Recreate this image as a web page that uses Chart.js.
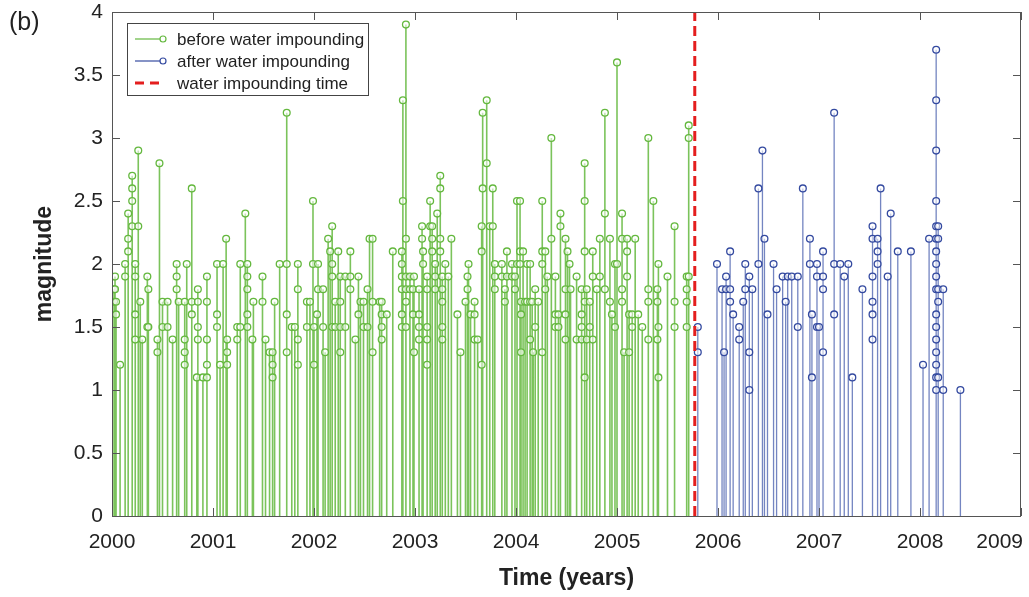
<!DOCTYPE html>
<html>
<head>
<meta charset="utf-8">
<title>Magnitude over time</title>
<script src="https://cdn.jsdelivr.net/npm/chart.js@4.4.1/dist/chart.umd.min.js"></script>
<style>
    html, body { margin: 0; padding: 0; background: #fff; }
    #wrap { width: 1029px; height: 597px; }
</style>
</head>
<body>
<div id="wrap"><canvas id="quakeChart" width="1029" height="597"></canvas></div>
<script>
// Each row: [time in decimal years, magnitude, magnitude, ...]
// (several events that fall on nearly the same date share a row)
const beforeEvents = [
    [2000.02, 1.8, 1.7], [2000.03, 1.9, 1.8], [2000.04, 1.7, 1.6], [2000.08, 1.2],
    [2000.13, 2.0, 1.9], [2000.16, 2.4, 2.2, 2.1], [2000.20, 2.7, 2.6, 2.5, 2.3],
    [2000.23, 2.0, 1.9, 1.6, 1.4], [2000.26, 2.9, 2.3], [2000.28, 1.7], [2000.30, 1.4],
    [2000.35, 1.9, 1.5], [2000.36, 1.8, 1.5], [2000.45, 1.4, 1.3], [2000.47, 2.8],
    [2000.50, 1.7, 1.5], [2000.55, 1.7, 1.5], [2000.60, 1.4], [2000.64, 2.0, 1.9, 1.8],
    [2000.66, 1.7], [2000.72, 1.7, 1.4, 1.3, 1.2], [2000.74, 2.0], [2000.79, 2.6, 1.7, 1.6],
    [2000.84, 1.1], [2000.85, 1.8, 1.7, 1.5, 1.4], [2000.90, 1.1], [2000.94, 1.9, 1.7, 1.4, 1.2, 1.1],
    [2001.04, 2.0, 1.6, 1.5], [2001.07, 1.2], [2001.10, 2.0], [2001.13, 2.2], [2001.14, 1.4, 1.3, 1.2],
    [2001.24, 1.5, 1.4], [2001.27, 2.0, 1.5], [2001.32, 2.4], [2001.34, 2.0, 1.9, 1.8, 1.6, 1.5],
    [2001.39, 1.4], [2001.40, 1.7], [2001.49, 1.9, 1.7], [2001.52, 1.4], [2001.56, 1.3],
    [2001.59, 1.3, 1.2, 1.1], [2001.61, 1.7], [2001.66, 2.0], [2001.73, 3.2, 2.0, 1.6, 1.3],
    [2001.78, 1.5], [2001.81, 1.5], [2001.84, 2.0, 1.8, 1.4, 1.2], [2001.93, 1.7, 1.5],
    [2001.96, 1.7], [2001.99, 2.5, 2.0], [2002.00, 1.5, 1.2], [2002.03, 1.6], [2002.04, 2.0, 1.8],
    [2002.09, 1.8, 1.5], [2002.11, 1.3], [2002.14, 2.2], [2002.16, 2.1], [2002.18, 2.3, 2.0, 1.9, 1.5],
    [2002.21, 1.7, 1.5], [2002.24, 2.1], [2002.26, 1.9, 1.7, 1.5, 1.3], [2002.31, 1.9, 1.5],
    [2002.36, 2.1, 1.9, 1.8], [2002.41, 1.4], [2002.44, 1.9, 1.6], [2002.46, 1.7], [2002.49, 1.7, 1.5],
    [2002.53, 1.8, 1.5], [2002.55, 2.2], [2002.58, 2.2, 1.7, 1.3], [2002.65, 1.7],
    [2002.67, 1.7, 1.6, 1.5, 1.4], [2002.72, 1.6], [2002.78, 2.1], [2002.87, 2.1, 2.0, 1.9, 1.8, 1.6, 1.5],
    [2002.88, 3.3, 2.5], [2002.91, 3.9, 2.2, 1.9, 1.8, 1.7, 1.5], [2002.95, 1.9, 1.8], [2002.98, 1.8, 1.6],
    [2002.99, 1.9, 1.3], [2003.04, 1.8, 1.6, 1.5, 1.4], [2003.07, 2.3, 2.2], [2003.08, 2.1, 2.0],
    [2003.12, 1.9, 1.8, 1.5, 1.4, 1.2], [2003.15, 2.5, 2.3], [2003.17, 2.3, 2.2, 2.1],
    [2003.20, 2.0, 1.9, 1.8], [2003.22, 2.4], [2003.25, 2.7, 2.6, 2.2, 2.1], [2003.27, 1.9, 1.8, 1.7, 1.5, 1.4],
    [2003.30, 2.0], [2003.33, 1.9], [2003.36, 2.2], [2003.42, 1.6], [2003.45, 1.3], [2003.50, 1.7],
    [2003.52, 1.9, 1.8], [2003.53, 2.0], [2003.55, 1.6], [2003.59, 1.7, 1.6, 1.4], [2003.62, 1.4],
    [2003.66, 2.3, 2.1, 1.2], [2003.67, 3.2, 2.6], [2003.71, 3.3, 2.8], [2003.74, 2.3], [2003.77, 2.6, 2.3],
    [2003.79, 2.0, 1.9, 1.8], [2003.86, 2.0, 1.9], [2003.89, 1.8, 1.7], [2003.91, 2.1, 1.9],
    [2003.96, 2.0, 1.9], [2003.99, 1.9, 1.8], [2004.01, 2.5, 2.0], [2004.04, 2.5, 2.1, 2.0],
    [2004.05, 1.7, 1.6, 1.3], [2004.07, 2.1], [2004.09, 1.7], [2004.11, 2.0, 1.7], [2004.14, 2.0, 1.7, 1.4],
    [2004.16, 1.7], [2004.17, 1.3], [2004.19, 1.8, 1.5], [2004.22, 1.7], [2004.26, 2.5, 2.1, 2.0, 1.3],
    [2004.29, 2.1, 1.8], [2004.31, 1.9], [2004.35, 3.0, 2.2], [2004.39, 1.9, 1.6, 1.5], [2004.42, 1.6, 1.5],
    [2004.44, 2.4, 2.3], [2004.49, 2.2, 1.8, 1.6, 1.4], [2004.51, 2.1], [2004.53, 2.0], [2004.54, 1.8],
    [2004.60, 1.9, 1.4], [2004.65, 1.8, 1.6, 1.5, 1.4], [2004.68, 2.8, 2.5, 2.1, 1.7, 1.1],
    [2004.70, 1.8, 1.4], [2004.73, 1.7, 1.5], [2004.76, 2.1, 1.9, 1.4], [2004.80, 1.8], [2004.83, 2.2, 1.9],
    [2004.88, 3.2, 2.4, 1.8], [2004.93, 2.2, 1.7], [2004.95, 1.6], [2004.98, 2.0, 1.5], [2005.00, 3.6, 2.0],
    [2005.05, 2.4, 2.2, 1.8, 1.7], [2005.07, 1.3], [2005.10, 2.2, 2.1, 1.9], [2005.12, 1.6, 1.3],
    [2005.15, 1.6, 1.5], [2005.18, 2.2], [2005.21, 1.6], [2005.25, 1.5], [2005.31, 3.0, 1.8, 1.7, 1.4],
    [2005.36, 2.5], [2005.40, 1.8, 1.7, 1.4], [2005.41, 2.0, 1.5, 1.1], [2005.50, 1.9],
    [2005.57, 2.3, 1.7, 1.5], [2005.69, 1.9, 1.8, 1.7, 1.5], [2005.71, 3.1, 3.0, 1.9]
];

const afterEvents = [
    [2005.80, 1.5, 1.3], [2005.99, 2.0], [2006.04, 1.8], [2006.06, 1.3], [2006.08, 1.9, 1.8],
    [2006.12, 2.1, 1.8, 1.7], [2006.15, 1.6], [2006.21, 1.5, 1.4], [2006.25, 1.7], [2006.27, 2.0, 1.8],
    [2006.31, 1.9, 1.3, 1.0], [2006.34, 1.8], [2006.40, 2.6, 2.0], [2006.44, 2.9], [2006.46, 2.2],
    [2006.49, 1.6], [2006.55, 2.0], [2006.58, 1.8], [2006.64, 1.9], [2006.67, 1.7], [2006.69, 1.9],
    [2006.73, 1.9], [2006.79, 1.9, 1.5], [2006.84, 2.6], [2006.91, 2.2, 2.0], [2006.93, 1.6, 1.1],
    [2006.98, 2.0, 1.9, 1.5], [2007.00, 1.5], [2007.04, 2.1, 1.9, 1.8, 1.3], [2007.15, 3.2, 2.0, 1.6],
    [2007.21, 2.0], [2007.25, 1.9], [2007.29, 2.0], [2007.33, 1.1], [2007.43, 1.8],
    [2007.53, 2.3, 2.2, 1.9, 1.7, 1.6, 1.4], [2007.58, 2.2, 2.1, 2.0], [2007.61, 2.6], [2007.68, 1.9],
    [2007.71, 2.4], [2007.78, 2.1], [2007.91, 2.1], [2008.03, 1.2], [2008.09, 2.2],
    [2008.16, 3.7, 3.3, 2.9, 2.5, 2.3, 2.2, 2.1, 2.0, 1.9, 1.8, 1.6, 1.5, 1.4, 1.3, 1.2, 1.1, 1.0],
    [2008.18, 2.3, 2.2, 1.8, 1.7, 1.1], [2008.23, 1.8, 1.0], [2008.40, 1.0]
];

const impoundTime = 2005.77;
const yearTicks = [2000, 2001, 2002, 2003, 2004, 2005, 2006, 2007, 2008, 2009];
const magTicks = [0, 0.5, 1, 1.5, 2, 2.5, 3, 3.5, 4];

const GREEN = 'rgb(100, 184, 62)';
const GREEN_STEM = 'rgba(100, 184, 62, 0.85)';
const BLUE = 'rgb(52, 74, 160)';
const BLUE_STEM = 'rgba(92, 112, 182, 0.85)';
const RED = 'rgb(228, 30, 30)';
const FONT = '"Liberation Sans", Arial, Helvetica, sans-serif';

// one vertical segment per row, from zero up to the largest magnitude
function stemPoints(rows) {
    const pts = [];
    rows.forEach(([t, ...mags]) => {
        pts.push({ x: t, y: 0 }, { x: t, y: Math.max(...mags) }, { x: t, y: null });
    });
    return pts;
}

function markerPoints(rows) {
    return rows.flatMap(([t, ...mags]) => mags.map(m => ({ x: t, y: m })));
}

// frame with inward ticks, year labels and the legend box
const framePlugin = {
    id: 'framePlugin',
    afterDraw(chart) {
        const { ctx, chartArea: a, scales: { x, y } } = chart;
        ctx.save();

        ctx.strokeStyle = '#555';
        ctx.lineWidth = 1;
        ctx.strokeRect(a.left + 0.5, a.top + 0.5, a.right - a.left - 1, a.bottom - a.top);

        ctx.beginPath();
        yearTicks.forEach(v => {
            const px = Math.round(x.getPixelForValue(v)) + 0.5;
            ctx.moveTo(px, a.bottom); ctx.lineTo(px, a.bottom - 8);
            ctx.moveTo(px, a.top); ctx.lineTo(px, a.top + 8);
        });
        magTicks.forEach(v => {
            const py = Math.round(y.getPixelForValue(v)) + 0.5;
            ctx.moveTo(a.left, py); ctx.lineTo(a.left + 8, py);
            ctx.moveTo(a.right, py); ctx.lineTo(a.right - 8, py);
        });
        ctx.stroke();

        // year labels; the last one is pulled in so it stays on the canvas
        ctx.font = `21px ${FONT}`;
        ctx.fillStyle = '#222';
        ctx.textAlign = 'center';
        ctx.textBaseline = 'middle';
        yearTicks.forEach(v => {
            const label = String(v);
            const w = ctx.measureText(label).width;
            const px = Math.min(x.getPixelForValue(v), chart.width - 6 - w / 2);
            ctx.fillText(label, px, a.bottom + 26);
        });

        // panel letter
        ctx.textAlign = 'left';
        ctx.font = `25px ${FONT}`;
        ctx.fillText('(b)', 9, 23);

        // legend
        const lx = a.left + 15, ly = a.top + 11, lw = 241, lh = 72;
        ctx.fillStyle = '#fff';
        ctx.fillRect(lx, ly, lw, lh);
        ctx.strokeStyle = '#444';
        ctx.strokeRect(lx + 0.5, ly + 0.5, lw, lh);

        const rows = [
            { label: 'before water impounding', color: GREEN, kind: 'stem' },
            { label: 'after water impounding', color: BLUE, kind: 'stem' },
            { label: 'water impounding time', color: RED, kind: 'dash' }
        ];
        ctx.font = `17px ${FONT}`;
        rows.forEach((r, i) => {
            const ry = ly + 16 + i * 22;
            ctx.strokeStyle = r.color;
            if (r.kind === 'stem') {
                ctx.lineWidth = 1.2;
                ctx.beginPath();
                ctx.moveTo(lx + 8, ry); ctx.lineTo(lx + 33, ry);
                ctx.stroke();
                ctx.beginPath();
                ctx.arc(lx + 36, ry, 3, 0, Math.PI * 2);
                ctx.stroke();
            } else {
                ctx.lineWidth = 3;
                ctx.setLineDash([9, 6]);
                ctx.beginPath();
                ctx.moveTo(lx + 8, ry); ctx.lineTo(lx + 38, ry);
                ctx.stroke();
                ctx.setLineDash([]);
            }
            ctx.fillStyle = '#222';
            ctx.fillText(r.label, lx + 50, ry + 1);
        });

        ctx.restore();
    }
};

const ctx = document.getElementById('quakeChart');

new Chart(ctx, {
    type: 'scatter',
    data: {
        datasets: [
            {
                type: 'line',
                data: [{ x: impoundTime, y: 0 }, { x: impoundTime, y: 4 }],
                borderColor: RED,
                borderWidth: 3,
                borderDash: [10, 5],
                pointRadius: 0,
                order: 0
            },
            {
                data: markerPoints(beforeEvents),
                borderColor: GREEN,
                backgroundColor: 'rgba(255,255,255,0.55)',
                borderWidth: 1.3,
                pointRadius: 3.4,
                order: 1
            },
            {
                data: markerPoints(afterEvents),
                borderColor: BLUE,
                backgroundColor: 'rgba(255,255,255,0.55)',
                borderWidth: 1.3,
                pointRadius: 3.4,
                order: 1
            },
            {
                type: 'line',
                data: stemPoints(beforeEvents),
                borderColor: GREEN_STEM,
                borderWidth: 1.6,
                pointRadius: 0,
                spanGaps: false,
                order: 2
            },
            {
                type: 'line',
                data: stemPoints(afterEvents),
                borderColor: BLUE_STEM,
                borderWidth: 1.3,
                pointRadius: 0,
                spanGaps: false,
                order: 2
            }
        ]
    },
    options: {
        responsive: false,
        animation: false,
        events: [],
        layout: { padding: { top: 12, right: 8, left: 0, bottom: 0 } },
        plugins: {
            legend: { display: false },
            tooltip: { enabled: false }
        },
        scales: {
            x: {
                type: 'linear',
                min: 2000,
                max: 2009,
                grid: { display: false, drawTicks: false },
                border: { display: false },
                ticks: { display: false },
                afterBuildTicks: s => { s.ticks = yearTicks.map(v => ({ value: v })); },
                afterFit: s => {
                    s.height = 81;
                    s.paddingLeft = 0;
                    s.paddingRight = 0;
                },
                title: {
                    display: true,
                    text: 'Time (years)',
                    color: '#222',
                    font: { family: FONT, size: 23, weight: 'bold' },
                    padding: { top: 0, bottom: 5 }
                }
            },
            y: {
                min: 0,
                max: 4,
                grid: { display: false, drawTicks: false },
                border: { display: false },
                afterBuildTicks: s => { s.ticks = magTicks.map(v => ({ value: v })); },
                afterFit: s => {
                    s.width = 112;
                    s.paddingTop = 0;
                    s.paddingBottom = 0;
                },
                ticks: {
                    color: '#222',
                    padding: 9,
                    font: { family: FONT, size: 21 },
                    callback: v => String(v)
                },
                title: {
                    display: true,
                    text: 'magnitude',
                    color: '#222',
                    font: { family: FONT, size: 23, weight: 'bold' },
                    padding: { top: 31, bottom: 0 }
                }
            }
        }
    },
    plugins: [framePlugin]
});
</script>
</body>
</html>
